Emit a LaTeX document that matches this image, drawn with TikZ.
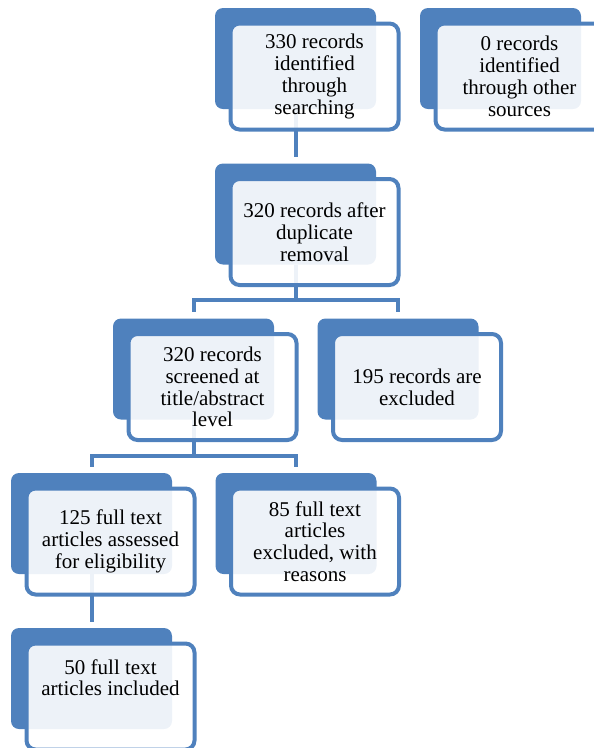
\documentclass[tikz,border=0pt]{standalone}
\usepackage{fontspec}
\newfontfamily\boxfont{Liberation Serif}
\usepackage{xcolor}
\usepackage{tikz}
\usetikzlibrary{positioning, backgrounds, calc}
\definecolor{prismablue}{HTML}{4F81BD}

\begin{document}
\begin{tikzpicture}[
    x=1pt, y=1pt,
    backbox/.style={rectangle,rounded corners=8pt,fill=prismablue,minimum width=161pt,minimum height=101pt,inner sep=0pt},
    frontbox/.style={rectangle,rounded corners=9pt,draw=prismablue,line width=4pt,fill=white,fill opacity=0.9,text opacity=1,
      minimum width=168pt,minimum height=106pt,inner sep=2pt,align=center,font=\boxfont\fontsize{21}{21.8}\selectfont,shift={(19pt,-18pt)}},
    link/.style={draw=prismablue,line width=4pt},
  ]
    \useasboundingbox (0,0) rectangle (594,-748);

    % identification
    \node[backbox] (b1) at (295.5,-58.5) {};
    \node[frontbox] (f1) at (b1) {330 records\\identified\\through\\searching};
    \node[backbox] (b2) at (500.5,-58.5) {};
    \node[frontbox] (f2) at (b2) {0 records\\identified\\through other\\sources};

    % screening
    \node[backbox] (b3) at (295.5,-214) {};
    \node[frontbox] (f3) at (b3) {320 records after\\duplicate\\removal};
    \node[backbox] (b4) at (193.5,-369) {};
    \node[frontbox] (f4) at (b4) {320 records\\screened at\\title/abstract\\level};
    \node[backbox] (b5) at (398,-369) {};
    \node[frontbox] (f5) at (b5) {195 records are\\excluded};

    % eligibility
    \node[backbox] (b6) at (91.5,-523.5) {};
    \node[frontbox] (f6) at (b6) {125 full text\\articles assessed\\for eligibility};
    \node[backbox] (b7) at (296,-523.5) {};
    \node[frontbox] (f7) at (b7) {85 full text\\articles\\excluded, with\\reasons};

    % included
    \node[backbox] (b8) at (91.5,-678.5) {};
    \node[frontbox, text depth=38pt] (f8) at (b8) {50 full text\\articles included};

    \begin{scope}[on background layer]
      \coordinate (j3) at ($(b3.south)+(0,-35)$);
      \coordinate (j4) at ($(b4.south)+(0,-36)$);
      \draw[link] (b1.south) -- ([yshift=6pt]b3.north);
      \draw[link] (b3.south) -- (j3) -| ([yshift=6pt]b4.north);
      \draw[link] (j3) -| ([yshift=6pt]b5.north);
      \draw[link] (b4.south) -- (j4) -| ([yshift=6pt]b6.north);
      \draw[link] (j4) -| ([yshift=6pt]b7.north);
      \draw[link] (b6.south) -- ([yshift=6pt]b8.north);
    \end{scope}
  \end{tikzpicture}
\end{document}
